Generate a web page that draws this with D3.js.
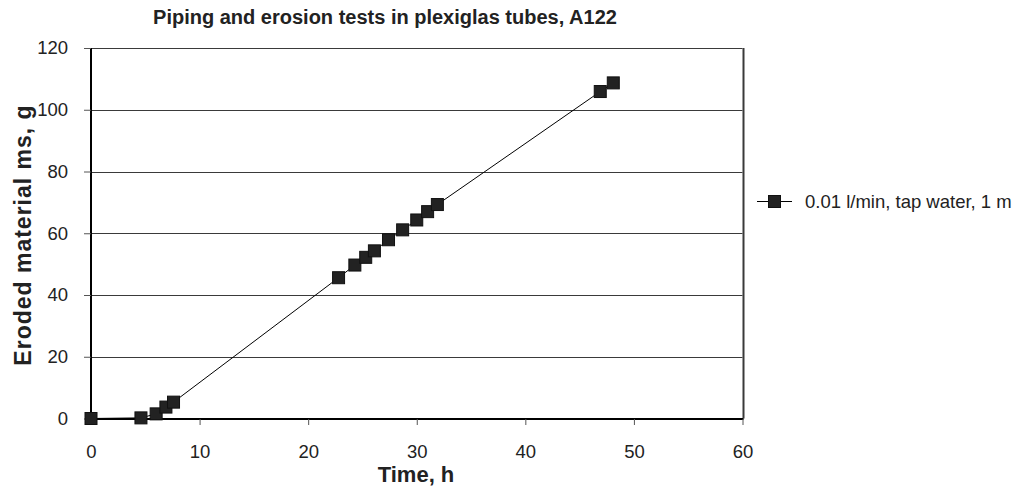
<!DOCTYPE html>
<html><head><meta charset="utf-8">
<script src="https://cdn.jsdelivr.net/npm/d3@7"></script>
<style>body{margin:0;background:#fff;} text{font-family:"Liberation Sans",Arial,sans-serif;}</style>
</head><body>
<svg id="c" width="1015" height="499"></svg>
<script>
const timeH = [0, 4.6, 6.0, 6.9, 7.6, 22.8, 24.3, 25.3, 26.1, 27.4, 28.7, 30.0, 31.0, 31.9, 46.9, 48.1];
const erodedG = [0, 0.2, 1.5, 3.7, 5.3, 45.6, 49.7, 52.2, 54.3, 57.9, 61.1, 64.3, 67.0, 69.3, 105.9, 108.7];
const xTicks = [0, 10, 20, 30, 40, 50, 60];
const yTicks = [0, 20, 40, 60, 80, 100, 120];
const seriesName = "0.01 l/min, tap water, 1 m";
const title = "Piping and erosion tests in plexiglas tubes, A122";

const svg = d3.select("#c");
const L = 91, R = 742.5, T = 48, B = 418.5;
const x = d3.scaleLinear().domain([0, 60]).range([L, R]);
const y = d3.scaleLinear().domain([0, 120]).range([B, T]);

svg.append("g").selectAll("line").data(yTicks.filter(d => d > 0)).join("line")
  .attr("x1", L).attr("x2", R)
  .attr("y1", d => Math.round(y(d)) + 0.5).attr("y2", d => Math.round(y(d)) + 0.5)
  .attr("stroke", "#3a3a3a").attr("stroke-width", 1);

svg.append("line").attr("x1", Math.round(R) + 0.5).attr("x2", Math.round(R) + 0.5)
  .attr("y1", T).attr("y2", B).attr("stroke", "#3a3a3a").attr("stroke-width", 2);

const xAxis = d3.axisBottom(x).tickValues(xTicks).tickSize(6).tickPadding(20).tickFormat(d3.format("d"));
const gx = svg.append("g").attr("transform", `translate(0,${Math.round(B)})`).call(xAxis);
gx.select(".domain").attr("stroke", "#000").attr("stroke-width", 2).attr("d", `M${L},0H${R + 1}`);
gx.selectAll(".tick line").attr("stroke", "#555");
gx.selectAll("text").style("font-size", "18.5px").attr("fill", "#222").style("font-family", "Liberation Sans, Arial, sans-serif");

const yAxis = d3.axisLeft(y).tickValues(yTicks).tickSize(7).tickPadding(16).tickFormat(d3.format("d"));
const gy = svg.append("g").attr("transform", `translate(${L},0)`).call(yAxis);
gy.select(".domain").attr("stroke", "#000").attr("stroke-width", 2).attr("d", `M0,${B}V${T}`);
gy.selectAll(".tick line").attr("stroke", "#555");
gy.selectAll("text").style("font-size", "18.5px").attr("fill", "#222").style("font-family", "Liberation Sans, Arial, sans-serif");

const data = timeH.map((t, i) => ({t, v: erodedG[i]}));
svg.append("path").datum(data)
  .attr("fill", "none").attr("stroke", "#000").attr("stroke-width", 1)
  .attr("d", d3.line().x(d => x(d.t)).y(d => y(d.v)));
const ms = 12;
svg.append("g").selectAll("rect").data(data).join("rect")
  .attr("x", d => x(d.t) - ms / 2).attr("y", d => y(d.v) - ms / 2)
  .attr("width", ms).attr("height", ms)
  .attr("fill", "#222").attr("stroke", "#111").attr("stroke-width", 1);

const ly = 201;
svg.append("line").attr("x1", 757).attr("x2", 792).attr("y1", ly + 0.5).attr("y2", ly + 0.5).attr("stroke", "#000");
svg.append("rect").attr("x", 768.5).attr("y", ly - 5.5).attr("width", 12).attr("height", 12).attr("fill", "#222").attr("stroke", "#111");
svg.append("text").attr("x", 805).attr("y", ly + 7).style("font-size", "18.5px").attr("fill", "#222").text(seriesName);

svg.append("text").attr("x", 385).attr("y", 24).attr("text-anchor", "middle")
  .style("font-size", "20px").attr("font-weight", "bold").attr("fill", "#222").text(title);
svg.append("text").attr("x", 416).attr("y", 482).attr("text-anchor", "middle")
  .style("font-size", "22px").attr("font-weight", "bold").attr("fill", "#222").text("Time, h");
svg.append("text").attr("transform", "translate(31,235) rotate(-90)").attr("text-anchor", "middle")
  .style("font-size", "23px").style("letter-spacing", "1px").attr("font-weight", "bold").attr("fill", "#222").text("Eroded material ms, g");
</script>
</body></html>
